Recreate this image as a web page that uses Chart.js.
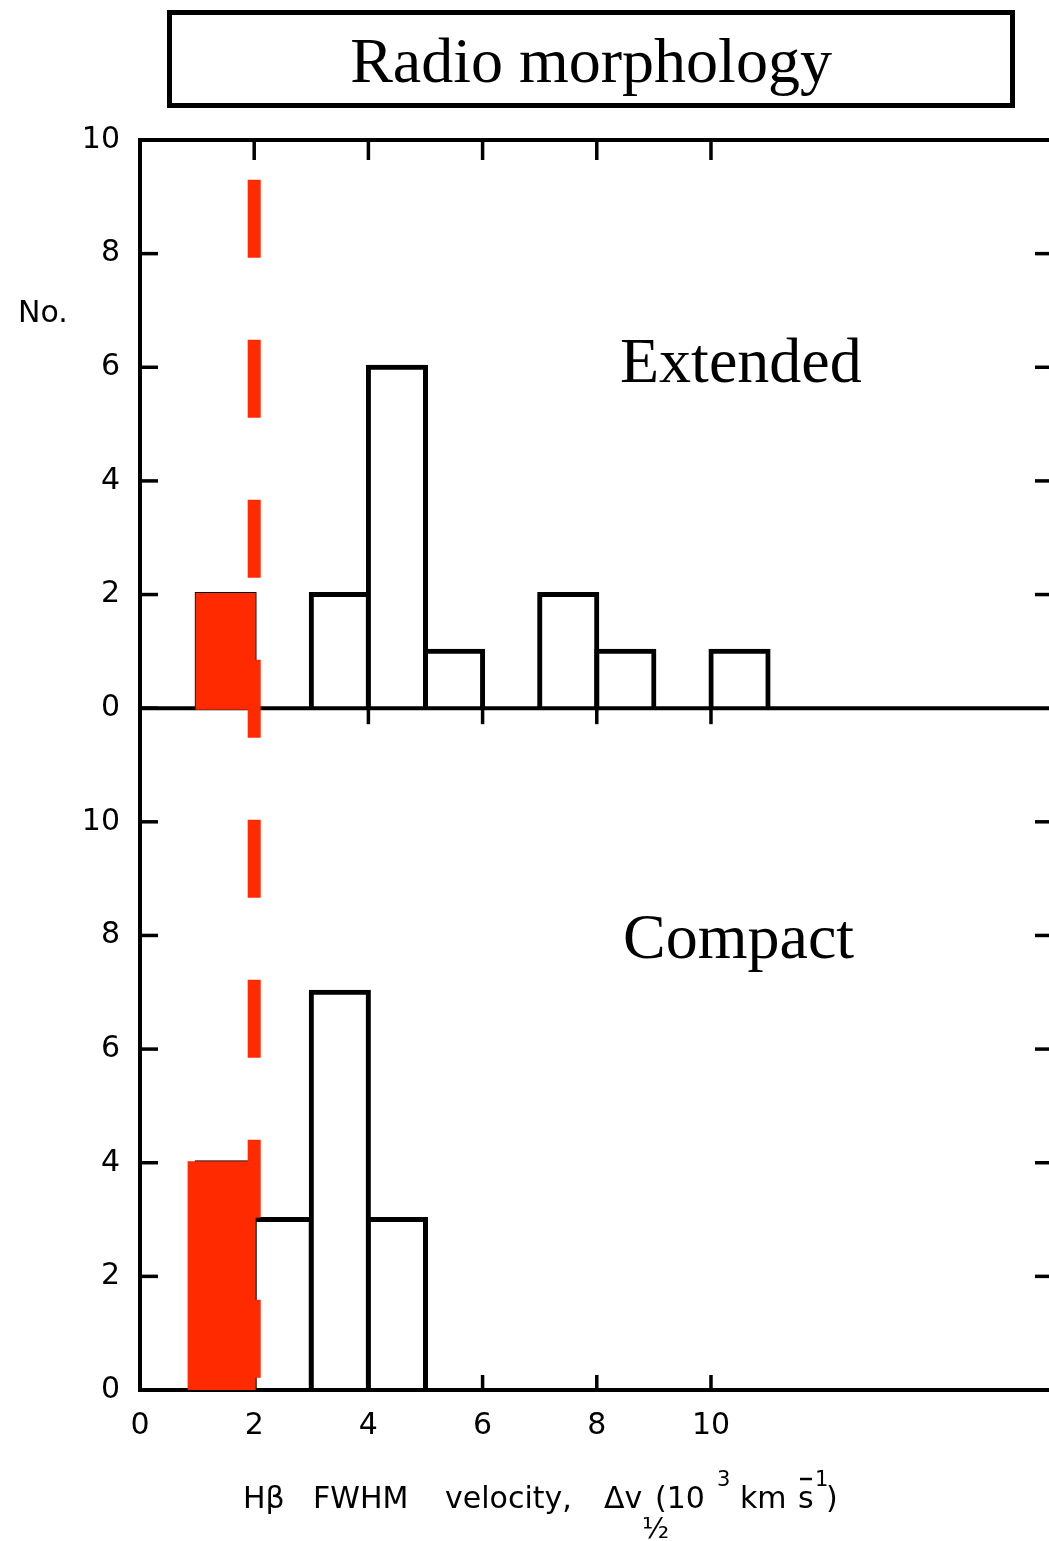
<!DOCTYPE html>
<html>
<head>
<meta charset="utf-8">
<script src="https://cdn.jsdelivr.net/npm/chart.js@4.4.1/dist/chart.umd.min.js"></script>
<style>
  html, body { margin: 0; padding: 0; background: #fff; overflow: hidden; }
  #chart { display: block; }
</style>
</head>
<body>
<canvas id="chart" width="1049" height="1541"></canvas>
<script>
// H-beta FWHM histogram, bins of 1000 km/s (centres)
const binCenters = [1.5, 2.5, 3.5, 4.5, 5.5, 6.5, 7.5, 8.5, 9.5, 10.5];
const extendedCounts = [2, 0, 2, 6, 1, 0, 2, 1, 0, 1];
const compactCounts = [4, 3, 7, 3, 0, 0, 0, 0, 0, 0];

// red boxes painted over the narrow-line bin (extended, compact)
const highlightCenters = [1.5, 1.43];
const highlightCounts = [2, 4];

const cutVelocity = 2;       // red dashed divider
const xTickValues = [2, 4, 6, 8, 10];
const panelOffset = 12;      // extended panel sits on top of compact panel
const yMax = 22;

const RED = '#ff2a00';
const sans = s => s + 'px "DejaVu Sans", sans-serif';
const serif = s => s + 'px "Liberation Serif", "Times New Roman", serif';

const toBars = (centers, counts, base) =>
  centers.map((c, i) => counts[i] ? { x: c, y: [base, base + counts[i]] } : null).filter(Boolean);

function strokeLine(ctx, x1, y1, x2, y2) {
  ctx.beginPath(); ctx.moveTo(x1, y1); ctx.lineTo(x2, y2); ctx.stroke();
}

const frame = {
  id: 'frame',
  beforeDatasetsDraw(chart) {
    const { ctx, chartArea: a, scales: { x, y } } = chart;
    const yTop = y.getPixelForValue(yMax), yMid = y.getPixelForValue(panelOffset), yBot = y.getPixelForValue(0);
    ctx.save();
    ctx.strokeStyle = '#000';
    ctx.lineWidth = 4;
    strokeLine(ctx, a.left - 2, yTop, a.right, yTop);
    ctx.lineWidth = 3.5;
    xTickValues.forEach(v => {
      const px = x.getPixelForValue(v);
      strokeLine(ctx, px, yTop, px, yTop + 20);
      strokeLine(ctx, px, yMid, px, yMid + 16);
      strokeLine(ctx, px, yBot, px, yBot - 15);
    });
    for (let v = 0; v <= yMax; v += 2) {
      const py = y.getPixelForValue(v);
      strokeLine(ctx, a.left, py, a.left + 18, py);
      if (v !== 0 && v !== panelOffset && v !== yMax) strokeLine(ctx, a.right - 14, py, a.right, py);
    }
    ctx.restore();
  },
  // panel base lines go over the white bar fills but under the red marks
  afterDatasetDraw(chart, args) {
    if (args.index !== 0) return;
    const { ctx, chartArea: a, scales: { y } } = chart;
    ctx.save();
    ctx.strokeStyle = '#000';
    ctx.lineWidth = 4;
    strokeLine(ctx, a.left - 2, y.getPixelForValue(panelOffset), a.right, y.getPixelForValue(panelOffset));
    strokeLine(ctx, a.left - 2, y.getPixelForValue(0), a.right, y.getPixelForValue(0));
    ctx.restore();
  },
  afterDraw(chart) {
    const { ctx } = chart;
    ctx.save();
    ctx.fillStyle = '#000';
    ctx.strokeStyle = '#000';
    // title box
    ctx.lineWidth = 5;
    ctx.strokeRect(169.5, 12.5, 843, 93);
    ctx.font = serif(64);
    ctx.textAlign = 'center';
    ctx.textBaseline = 'alphabetic';
    ctx.fillText('Radio morphology', 591, 82);
    ctx.textAlign = 'left';
    ctx.fillText('Extended', 620, 382);
    ctx.fillText('Compact', 623, 958);
    // y label
    ctx.font = sans(30);
    ctx.fillText('No.', 18, 322);
    // x title with sub/superscripts
    const base = 1508;
    [['H\u03B2', 243], ['FWHM', 313], ['velocity,', 445], ['\u0394v', 604], ['(10', 655], ['km', 740], ['s', 798], [')', 826]]
      .forEach(([t, px]) => ctx.fillText(t, px, base));
    ctx.font = sans(21);
    ctx.fillText('3', 717, base - 22);
    ctx.fillText('1', 815, base - 22);
    ctx.font = sans(28);
    ctx.fillText('\u00BD', 642, base + 30);
    ctx.lineWidth = 2.5;
    strokeLine(ctx, 800, base - 29, 812, base - 29);
    ctx.restore();
  }
};

const outline = {
  backgroundColor: '#fff',
  borderColor: '#000',
  borderWidth: 5,
  borderSkipped: 'start',
  inflateAmount: 2.5,
  barPercentage: 1,
  categoryPercentage: 1,
  grouped: false,
  order: 3
};
const fill = {
  backgroundColor: RED,
  borderWidth: 0,
  inflateAmount: 1.5,
  barPercentage: 1,
  categoryPercentage: 1,
  grouped: false,
  order: 2
};

const tickFont = { family: 'DejaVu Sans', size: 30 };

new Chart(document.getElementById('chart'), {
  type: 'bar',
  data: {
    datasets: [
      { ...outline, label: 'Extended', xAxisID: 'x', yAxisID: 'y',
        data: toBars(binCenters, extendedCounts, panelOffset) },
      { ...outline, label: 'Compact', xAxisID: 'xb', yAxisID: 'y',
        data: toBars(binCenters, compactCounts, 0) },
      { ...fill, label: 'Extended narrow', xAxisID: 'x', yAxisID: 'y',
        data: toBars(highlightCenters.slice(0, 1), highlightCounts.slice(0, 1), panelOffset) },
      { ...fill, label: 'Compact narrow', xAxisID: 'xr', yAxisID: 'y', barPercentage: 1.14,
        data: toBars(highlightCenters.slice(1), highlightCounts.slice(1), 0) },
      { type: 'line', label: 'cut', xAxisID: 'x', yAxisID: 'y',
        data: [{ x: cutVelocity, y: 21.3 }, { x: cutVelocity, y: 0.18 }],
        borderColor: RED, borderWidth: 13, borderDash: [78, 82], borderCapStyle: 'butt',
        pointRadius: 0, fill: false, order: 0 }
    ]
  },
  options: {
    responsive: false,
    devicePixelRatio: 1,
    animation: false,
    layout: { padding: { top: 140, left: 0, right: 0, bottom: 0 } },
    plugins: { legend: { display: false }, tooltip: { enabled: false } },
    scales: {
      x: {
        type: 'linear', min: 0, max: 15.92, offset: false,
        grid: { drawOnChartArea: false, drawTicks: false },
        border: { display: true, color: '#000', width: 4 },
        ticks: { stepSize: 2, includeBounds: false, autoSkip: false, maxRotation: 0, padding: 18,
                 color: '#000', font: tickFont, callback: v => v <= 10 ? String(v) : '' },
        afterFit: s => { s.height = 151; }
      },
      xb: { type: 'linear', min: 0, max: 15.92, offset: false, display: false,
            ticks: { stepSize: 2, includeBounds: false } },
      xr: { type: 'linear', min: 0, max: 15.92, offset: false, display: false,
            ticks: { stepSize: 1, includeBounds: false } },
      y: {
        type: 'linear', min: 0, max: yMax,
        grid: { drawOnChartArea: false, drawTicks: false },
        border: { display: true, color: '#000', width: 4 },
        ticks: { stepSize: 2, padding: 20, color: '#000', font: tickFont,
                 callback: v => v <= 10 ? String(v) : (v >= panelOffset ? String(v - panelOffset) : '') },
        afterFit: s => { s.width = 140; }
      }
    }
  },
  plugins: [frame]
});
</script>
</body>
</html>
